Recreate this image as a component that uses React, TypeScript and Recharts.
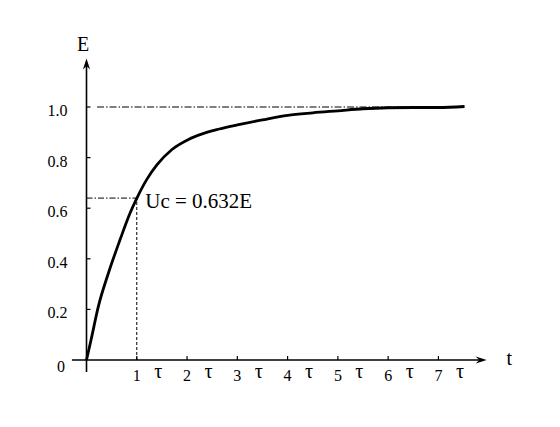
import React from 'react';
import { LineChart, Line, XAxis, YAxis, ReferenceLine, ReferenceDot, Label } from 'recharts';

const times = [0, 0.09, 0.235, 0.435, 0.665, 0.865, 1.0, 1.2, 1.4, 1.7, 2.06, 2.39, 2.64, 3.0, 3.5, 4.0, 4.5, 5.0, 5.5, 6.0, 6.5, 7.0, 7.52];
const values = [0, 0.079, 0.211, 0.343, 0.474, 0.58, 0.639, 0.714, 0.771, 0.832, 0.875, 0.9, 0.913, 0.929, 0.949, 0.967, 0.977, 0.985, 0.993, 0.997, 0.998, 0.998, 1.002];
const xTicks = [1, 2, 3, 4, 5, 6, 7];
const yTicks = [0, 0.2, 0.4, 0.6, 0.8, 1.0];
const yTickLabels = ['0', '0.2', '0.4', '0.6', '0.8', '1.0'];
const tauLabel = 'τ';
const xAxisName = 't';
const yAxisName = 'E';
const kneeT = 1;
const kneeV = 0.64;
const kneeLabel = 'Uc = 0.632E';
const finalV = 1;
const xDomain: [number, number] = [0, 8];
const yDomain: [number, number] = [0, 1.2];

const data = times.map((t, i) => ({ t, v: values[i] }));

const FONT = '"Liberation Serif", "Times New Roman", serif';

const XTick = (props: any) => {
  const { x, y, payload } = props;
  return (
    <g>
      <line x1={x} y1={y} x2={x} y2={y - 4} stroke="#000" strokeWidth={1.2} />
      <text x={x} y={y + 20.5} textAnchor="middle" fontSize={16} fontFamily={FONT} fill="#000">
        {payload.value}
      </text>
      <text x={x + 21.5} y={y + 18} textAnchor="middle" fontSize={20} fontFamily={FONT} fill="#000">
        {tauLabel}
      </text>
    </g>
  );
};

const YTick = (props: any) => {
  const { x, y, payload, index } = props;
  const isZero = payload.value === 0;
  return (
    <g>
      {!isZero && <line x1={x} y1={y} x2={x + 4} y2={y} stroke="#000" strokeWidth={1.2} />}
      <text
        x={isZero ? x - 21.5 : x - 19}
        y={isZero ? y + 11.5 : y + 9}
        textAnchor="end"
        fontSize={16}
        fontFamily={FONT}
        fill="#000"
      >
        {yTickLabels[index] ?? String(payload.value)}
      </text>
    </g>
  );
};

const ArrowLine = (props: any) => {
  const { x1, y1, x2, y2 } = props;
  const dx = x2 - x1;
  const dy = y2 - y1;
  const len = Math.hypot(dx, dy) || 1;
  const ux = dx / len;
  const uy = dy / len;
  const px = -uy;
  const py = ux;
  const L = 11;
  const W = 3.6;
  const N = 7.5;
  const pts = [
    [x2, y2],
    [x2 - ux * L + px * W, y2 - uy * L + py * W],
    [x2 - ux * N, y2 - uy * N],
    [x2 - ux * L - px * W, y2 - uy * L - py * W],
  ]
    .map((p) => p.join(','))
    .join(' ');
  return (
    <g>
      <line x1={x1} y1={y1} x2={x2 - ux * N} y2={y2 - uy * N} stroke="#000" strokeWidth={1.6} />
      <polygon points={pts} fill="#000" />
    </g>
  );
};

export default function App() {
  return (
    <div style={{ position: 'absolute', left: 0, top: 0, background: '#fff' }}>
      <LineChart
        width={560}
        height={427}
        data={data}
        margin={{ top: 56.4, right: 71.3, bottom: 37, left: 46.5 }}
      >
        <XAxis
          dataKey="t"
          type="number"
          domain={xDomain}
          ticks={xTicks}
          axisLine={false}
          tickLine={false}
          tickSize={0}
          tickMargin={0}
          height={30}
          tick={<XTick />}
          interval={0}
        />
        <YAxis
          type="number"
          domain={yDomain}
          ticks={yTicks}
          axisLine={false}
          tickLine={false}
          tickSize={0}
          tickMargin={0}
          width={40}
          tick={<YTick />}
          interval={0}
        />
        <ReferenceLine
          segment={[{ x: -0.29, y: 0 }, { x: 7.96, y: 0 }]}
          ifOverflow="visible"
          shape={ArrowLine}
        />
        <ReferenceLine
          segment={[{ x: 0, y: -0.047 }, { x: 0, y: 1.192 }]}
          ifOverflow="visible"
          shape={ArrowLine}
        />
        <ReferenceLine
          segment={[{ x: 0.21, y: finalV }, { x: 7.5, y: finalV }]}
          ifOverflow="visible"
          stroke="#000"
          strokeWidth={1}
          strokeDasharray="7 2 1.5 2"
        />
        <ReferenceLine
          segment={[{ x: 0, y: kneeV }, { x: kneeT, y: kneeV }]}
          ifOverflow="visible"
          stroke="#000"
          strokeWidth={1}
          strokeDasharray="6 2 1.5 2"
        />
        <ReferenceLine
          segment={[{ x: kneeT, y: 0 }, { x: kneeT, y: kneeV }]}
          ifOverflow="visible"
          stroke="#000"
          strokeWidth={1}
          strokeDasharray="3 2"
        />
        <Line
          type="monotone"
          dataKey="v"
          stroke="#000"
          strokeWidth={2.8}
          dot={false}
          activeDot={false}
          isAnimationActive={false}
        />
        <ReferenceDot x={kneeT} y={kneeV} r={0} fill="none" stroke="none" ifOverflow="visible">
          <Label
            content={(p: any) => (
              <text x={p.viewBox.x + 8.5} y={p.viewBox.y + 9.5} fontSize={21} fontFamily={FONT} fill="#000">
                {kneeLabel}
              </text>
            )}
          />
        </ReferenceDot>
        <ReferenceDot x={0} y={yDomain[1]} r={0} fill="none" stroke="none" ifOverflow="visible">
          <Label
            content={(p: any) => (
              <text x={p.viewBox.x - 3.5} y={p.viewBox.y - 5} textAnchor="middle" fontSize={20} fontFamily={FONT} fill="#000">
                {yAxisName}
              </text>
            )}
          />
        </ReferenceDot>
        <ReferenceDot x={xDomain[1]} y={0} r={0} fill="none" stroke="none" ifOverflow="visible">
          <Label
            content={(p: any) => (
              <text x={p.viewBox.x + 20.5} y={p.viewBox.y + 5} textAnchor="middle" fontSize={20} fontFamily={FONT} fill="#000">
                {xAxisName}
              </text>
            )}
          />
        </ReferenceDot>
      </LineChart>
    </div>
  );
}
